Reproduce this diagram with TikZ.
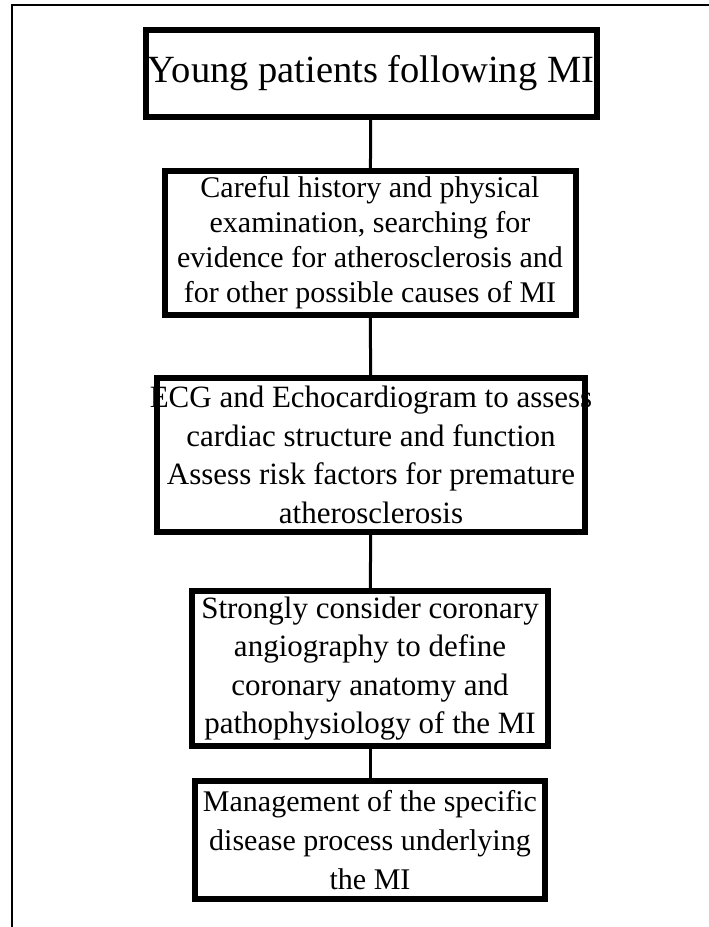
\documentclass[tikz,border=0pt]{standalone}
\usepackage{fontspec}
\setmainfont{Liberation Serif}
\usepackage{tikz}

\begin{document}
\begin{tikzpicture}[x=1pt,y=-1pt,
  stepbox/.style={draw,line width=6pt,align=center,inner xsep=0pt,inner ysep=0pt,
    font=\fontsize{31}{38.5}\selectfont},
  link/.style={line width=3pt}]
  \useasboundingbox (0,0) rectangle (709,927);
  % page frame, only top and left
  \draw[line width=2pt] (12,927) -- (12,5) -- (709,5);
  \node[stepbox,minimum width=451pt,minimum height=87pt,font=\fontsize{38.5}{44}\selectfont]
    (young) at (371,73.5) {Young patients following MI};
  \node[stepbox,minimum width=411pt,minimum height=144pt,font=\fontsize{30}{35}\selectfont]
    (history) at (370,243) {Careful history and physical\\examination, searching for\\evidence for atherosclerosis and\\for other possible causes of MI};
  \node[stepbox,minimum width=424pt,minimum height=154pt,inner xsep=-7pt]
    (ecg) at (371,455) {ECG and Echocardiogram to assess\\cardiac structure and function\\Assess risk factors for premature\\atherosclerosis};
  \node[stepbox,minimum width=356pt,minimum height=155pt]
    (angio) at (370,668.5) {Strongly consider coronary\\angiography to define\\coronary anatomy and\\pathophysiology of the MI};
  \node[stepbox,minimum width=350pt,minimum height=118pt,font=\fontsize{30}{39}\selectfont]
    (manage) at (370,840) {Management of the specific\\disease process underlying\\the MI};
  \draw[link] (young) -- (history);
  \draw[link] (history) -- (ecg);
  \draw[link] (ecg) -- (angio);
  \draw[link] (angio) -- (manage);
\end{tikzpicture}
\end{document}
